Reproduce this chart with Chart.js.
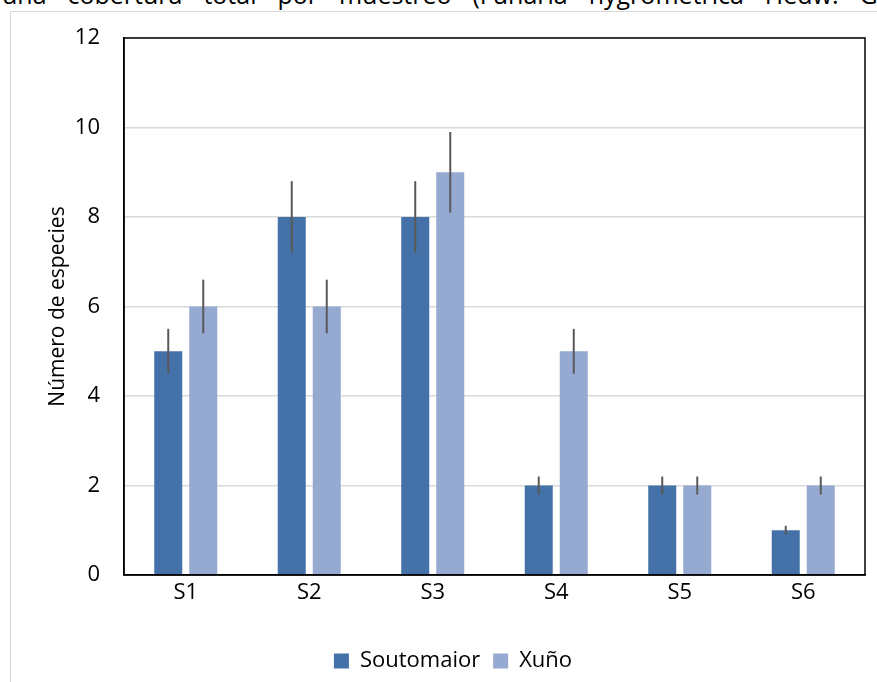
<!DOCTYPE html>
<html>
<head>
<meta charset="utf-8">
<script src="https://cdn.jsdelivr.net/npm/chart.js@4/dist/chart.umd.min.js"></script>
<style>
  body { margin: 0; background: #fff; overflow: hidden; }
  #wrap { position: relative; width: 877px; height: 682px; overflow: hidden; }
  #cap {
    position: absolute; left: 2px; top: -18px; width: 905px;
    font: 25px/24px "Open Sans", sans-serif; color: #000;
    text-align: justify; text-align-last: justify; white-space: nowrap;
  }
  #frame {
    position: absolute; left: 10px; top: 11px; width: 900px; height: 700px;
    border: 1px solid #d9d9d9;
  }
  canvas { position: absolute; left: 0; top: 0; }
</style>
</head>
<body>
<div id="wrap">
  <div id="cap">una cobertura total por muestreo (Funaria hygrometrica Hedw. Geb</div>
  <div id="frame"></div>
  <canvas id="chart" width="877" height="682"></canvas>
</div>
<script>
// DATA
const categories = ["S1", "S2", "S3", "S4", "S5", "S6"];
const seriesNames = ["Soutomaior", "Xuño"];
const soutomaior = [5, 8, 8, 2, 2, 1];
const xuno = [6, 6, 9, 5, 2, 2];
const soutomaiorErr = [0.5, 0.8, 0.8, 0.2, 0.2, 0.1];
const xunoErr = [0.6, 0.6, 0.9, 0.5, 0.2, 0.2];
const yTicks = [0, 2, 4, 6, 8, 10, 12];

const font = "'Open Sans', sans-serif";

// error bars from the y scale
const errorBars = {
  id: "errorBars",
  afterDatasetsDraw(chart) {
    const ctx = chart.ctx;
    const y = chart.scales.y;
    ctx.save();
    ctx.strokeStyle = "#595959";
    ctx.lineWidth = 2;
    chart.data.datasets.forEach((ds, i) => {
      chart.getDatasetMeta(i).data.forEach((bar, j) => {
        const v = ds.data[j];
        const e = ds.errors[j];
        ctx.beginPath();
        ctx.moveTo(bar.x, y.getPixelForValue(v + e));
        ctx.lineTo(bar.x, y.getPixelForValue(v - e));
        ctx.stroke();
      });
    });
    ctx.restore();
  }
};

// black box round the plot area
const plotBorder = {
  id: "plotBorder",
  afterDraw(chart) {
    const { ctx, chartArea: a } = chart;
    ctx.save();
    ctx.strokeStyle = "#000";
    ctx.lineWidth = 1.5;
    ctx.strokeRect(a.left, a.top, a.right - a.left, a.bottom - a.top);
    ctx.restore();
  }
};

const ctx = document.getElementById("chart").getContext("2d");

const chart = new Chart(ctx, {
  type: "bar",
  data: {
    labels: categories,
    datasets: [
      {
        label: seriesNames[0],
        data: soutomaior,
        errors: soutomaiorErr,
        backgroundColor: "#4472a8",
        barPercentage: 0.8,
        categoryPercentage: 0.567
      },
      {
        label: seriesNames[1],
        data: xuno,
        errors: xunoErr,
        backgroundColor: "#95a9d1",
        barPercentage: 0.8,
        categoryPercentage: 0.567
      }
    ]
  },
  options: {
    responsive: false,
    animation: false,
    layout: { padding: { top: 38, right: 12, left: 41, bottom: 0 } },
    plugins: {
      tooltip: { enabled: false },
      legend: {
        position: "bottom",
        labels: {
          boxWidth: 15,
          boxHeight: 15,
          padding: 13,
          color: "#000",
          font: { family: font, size: 22 }
        }
      }
    },
    scales: {
      x: {
        grid: { display: false, drawTicks: false },
        border: { display: true, color: "#000", width: 1.5 },
        ticks: { color: "#000", padding: 5, font: { family: font, size: 22 } },
        afterFit: (s) => { s.height = 62; }
      },
      y: {
        min: 0,
        max: 12,
        afterBuildTicks: (s) => { s.ticks = yTicks.map((v) => ({ value: v })); },
        grid: { color: "#d9d9d9", lineWidth: 1.5, drawTicks: false },
        border: { display: true, color: "#000", width: 1.5 },
        ticks: { color: "#000", padding: 24, font: { family: font, size: 22 } },
        title: {
          display: true,
          text: "Número de especies",
          color: "#000",
          font: { family: font, size: 21 },
          padding: { top: 4, bottom: 0 }
        },
        afterFit: (s) => { s.width = 83; }
      }
    }
  },
  plugins: [errorBars, plotBorder]
});
</script>
</body>
</html>
